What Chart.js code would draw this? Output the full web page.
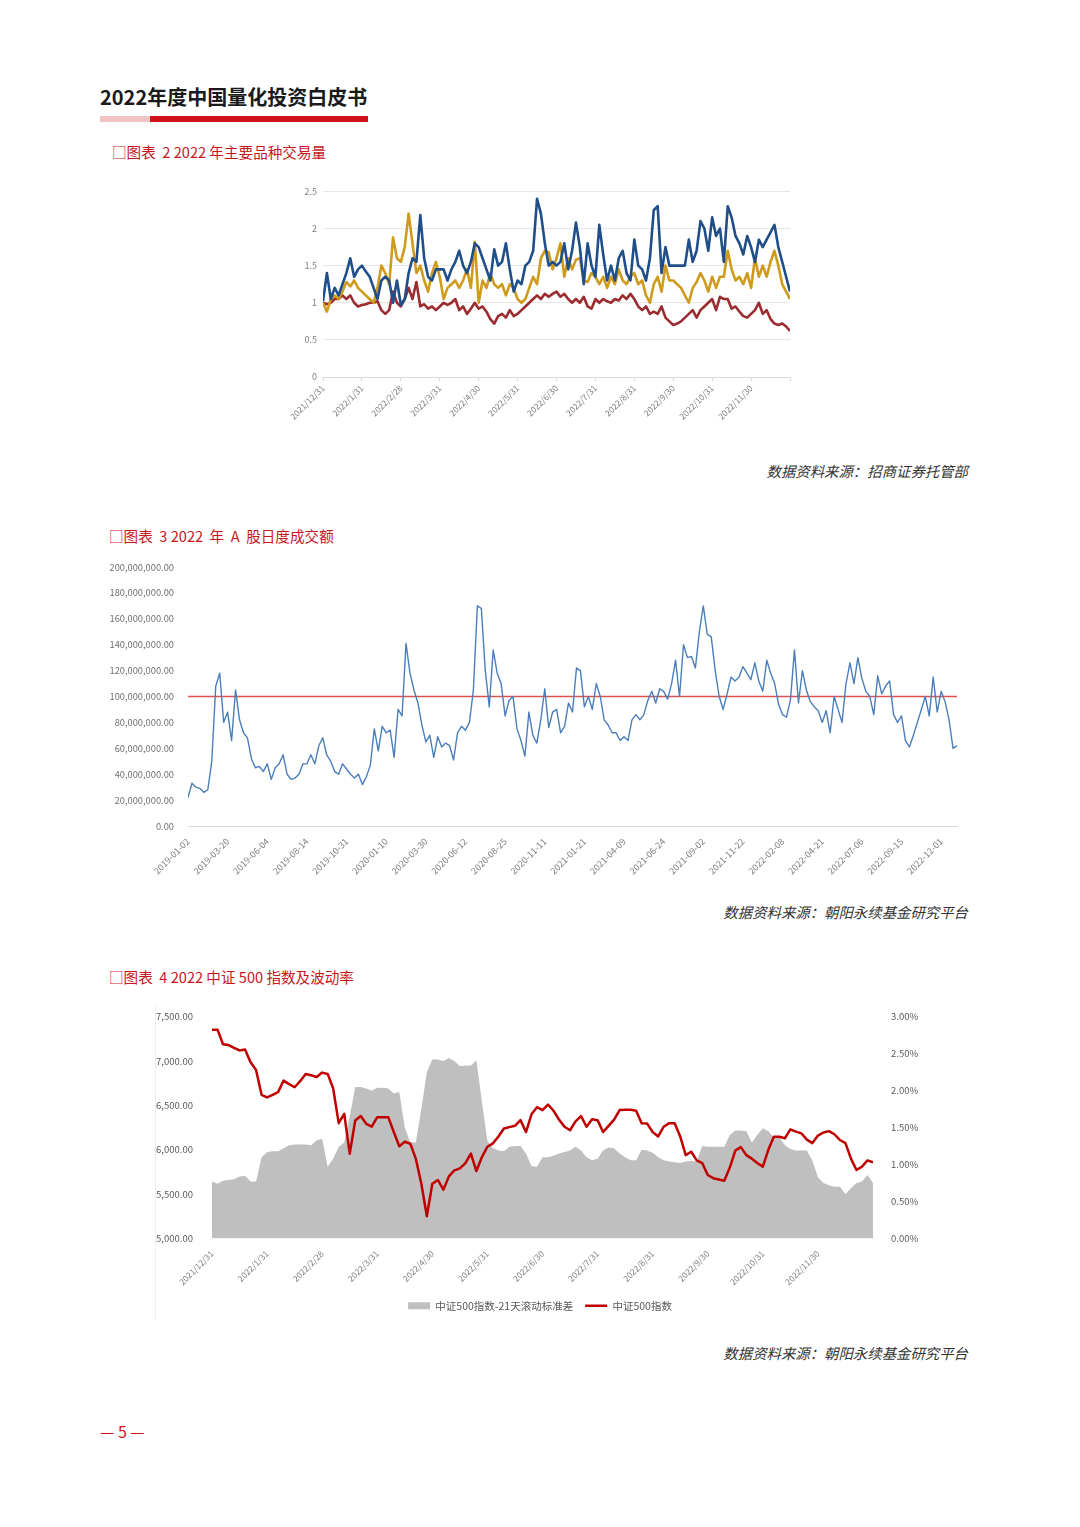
<!DOCTYPE html>
<html>
<head>
<meta charset="utf-8">
<script src="https://cdn.jsdelivr.net/npm/chart.js@4/dist/chart.umd.min.js"></script>
<style>
  body { margin: 0; background: #fff; font-family: 'Noto Sans CJK SC', 'Noto Sans', sans-serif; }
  #page { position: relative; width: 1080px; height: 1527px; overflow: hidden; }
  .abs { position: absolute; }
  .title { left: 100px; top: 82px; font-size: 20px; font-weight: 700; color: #1a1a1a; }
  .bar-pink { left: 100px; top: 116px; width: 50px; height: 6px; background: #f2c3c5; }
  .bar-red { left: 150px; top: 116px; width: 218px; height: 6px; background: #d0121b; }
  .caption { font-size: 14.6px; color: #c8161d; white-space: pre; }
  .source { right: 112px; font-size: 14.4px; font-style: italic; color: #333; }
  .pageno { left: 100px; top: 1419px; font-size: 16px; color: #d0121b; }
</style>
</head>
<body>
<div id="page">
  <div class="abs title">2022年度中国量化投资白皮书</div>
  <div class="abs bar-pink"></div>
  <div class="abs bar-red"></div>

  <div class="abs caption" style="left:112px;top:141px;">□图表  2 2022 年主要品种交易量</div>
  <div class="abs" style="left:270px;top:180px;width:530px;height:270px;"><canvas id="volChart"></canvas></div>
  <div class="abs source" style="top:460px;">数据资料来源：招商证券托管部</div>

  <div class="abs caption" style="left:109px;top:525px;">□图表  3 2022  年  A  股日度成交额</div>
  <div class="abs" style="left:100px;top:555px;width:870px;height:335px;"><canvas id="turnoverChart"></canvas></div>
  <div class="abs source" style="top:901px;">数据资料来源：朝阳永续基金研究平台</div>

  <div class="abs caption" style="left:109px;top:966px;">□图表  4 2022 中证 500 指数及波动率</div>
  <div class="abs" style="left:155px;top:1005px;width:1px;height:315px;background:#eeeeee;"></div>
  <div class="abs" style="left:150px;top:1000px;width:780px;height:321px;"><canvas id="csiChart"></canvas></div>
  <div class="abs source" style="top:1342px;">数据资料来源：朝阳永续基金研究平台</div>

  <div class="abs pageno">— 5 —</div>
</div>

<script>
// ---- chart 2: 2022 main product trading volume (10 points per month) ----
const volTicks = ['2021/12/31', '2022/1/31', '2022/2/28', '2022/3/31', '2022/4/30', '2022/5/31',
  '2022/6/30', '2022/7/31', '2022/8/31', '2022/9/30', '2022/10/31', '2022/11/30'];
const volBlue = [
  1.02, 1.4, 1.05, 1.2, 1.1, 1.25, 1.4, 1.6, 1.35, 1.45,
  1.5, 1.42, 1.35, 1.2, 1.05, 1.3, 1.35, 1.3, 1.0, 1.3,
  0.97, 1.05, 1.4, 1.6, 1.55, 2.18, 1.6, 1.35, 1.3, 1.45,
  1.45, 1.45, 1.3, 1.45, 1.55, 1.7, 1.5, 1.4, 1.55, 1.8,
  1.75, 1.6, 1.45, 1.3, 1.72, 1.5, 1.55, 1.8, 1.45, 1.15,
  1.3, 1.25, 1.5, 1.55, 1.7, 2.4, 2.2, 1.8, 1.5, 1.55,
  1.5, 1.55, 1.8, 1.45, 1.7, 2.08, 1.75, 1.25, 1.8, 1.5,
  1.35, 2.05, 1.65, 1.3, 1.5, 1.3, 1.6, 1.7, 1.4, 1.3,
  1.85, 1.5, 1.45, 1.3, 1.6, 2.25, 2.3, 1.4, 1.75, 1.5,
  1.5, 1.5, 1.5, 1.5, 1.85, 1.55, 1.7, 2.1, 2.0, 1.7,
  2.15, 1.9, 2.0, 1.55, 2.3, 2.15, 1.9, 1.8, 1.65, 1.9,
  1.75, 1.55, 1.85, 1.75, 1.85, 1.95, 2.05, 1.75, 1.55, 1.35,
  1.15];
const volGold = [
  1.0, 0.88, 1.05, 1.1, 1.05, 1.15, 1.28, 1.22, 1.3, 1.2,
  1.15, 1.1, 1.05, 1.0, 1.2, 1.5, 1.4, 1.25, 1.88, 1.6,
  1.55, 1.75, 2.2, 1.8, 1.4, 1.5, 1.3, 1.15, 1.4, 1.55,
  1.35, 1.05, 1.2, 1.25, 1.3, 1.2, 1.3, 1.45, 1.2, 1.82,
  1.0, 1.3, 1.2, 1.4, 1.25, 1.2, 1.25, 1.1, 1.25, 1.2,
  1.05, 1.0, 1.05, 1.2, 1.35, 1.25, 1.6, 1.7, 1.68, 1.45,
  1.6, 1.8, 1.35, 1.6, 1.45, 1.58, 1.6, 1.3, 1.28, 1.4,
  1.35, 1.25, 1.35, 1.2, 1.35, 1.25, 1.45, 1.3, 1.25, 1.35,
  1.4, 1.25, 1.3, 1.1, 1.0, 1.25, 1.35, 1.15, 1.5, 1.3,
  1.3, 1.25, 1.2, 1.1, 1.0, 1.2, 1.28, 1.4, 1.3, 1.15,
  1.35, 1.2, 1.35, 1.35, 1.7, 1.45, 1.3, 1.35, 1.25, 1.4,
  1.2, 1.6, 1.35, 1.5, 1.35, 1.55, 1.7, 1.5, 1.25, 1.15,
  1.05];
const volRed = [
  1.0, 0.98, 1.0, 1.05, 1.05, 1.1, 1.05, 1.1, 1.0, 0.95,
  0.97, 0.98, 1.0, 1.0, 1.02, 0.9, 0.85, 0.9, 1.15, 1.0,
  0.95, 1.05, 1.2, 1.05, 1.28, 0.95, 0.98, 0.92, 0.95, 0.9,
  0.95, 1.0, 0.97, 1.0, 1.05, 0.9, 0.95, 0.85, 0.92, 1.0,
  0.92, 0.95, 0.88, 0.78, 0.72, 0.82, 0.85, 0.8, 0.9, 0.82,
  0.85, 0.9, 0.95, 1.0, 1.05, 1.1, 1.05, 1.12, 1.08, 1.12,
  1.15, 1.08, 1.12, 1.05, 1.0, 1.05, 1.0, 1.08, 0.95, 0.92,
  1.05, 1.0, 1.05, 1.02, 1.0, 1.05, 1.03, 1.1, 1.05, 1.12,
  1.05, 0.95, 0.9, 0.95, 0.85, 0.88, 0.85, 0.95, 0.8, 0.75,
  0.7, 0.72, 0.75, 0.8, 0.85, 0.9, 0.8, 0.9, 0.95, 1.0,
  1.05, 0.9, 1.08, 1.05, 1.05, 0.92, 0.95, 0.88, 0.82, 0.8,
  0.85, 0.9, 1.0, 0.85, 0.9, 0.78, 0.72, 0.7, 0.72, 0.68,
  0.62];

// ---- chart 3: A-share daily turnover (millions, sampled 10 points per tick) ----
const turnoverTicks = ['2019-01-02', '2019-03-20', '2019-06-04', '2019-08-14', '2019-10-31',
  '2020-01-10', '2020-03-30', '2020-06-12', '2020-08-25', '2020-11-11', '2021-01-21',
  '2021-04-09', '2021-06-24', '2021-09-02', '2021-11-22', '2022-02-08', '2022-04-21',
  '2022-07-06', '2022-09-15', '2022-12-01'];
const turnoverM = [
  22, 33, 30, 29, 26, 28, 50, 108, 118, 80,
  88, 66, 105, 82, 72, 68, 52, 45, 46, 42,
  48, 36, 45, 48, 55, 40, 36, 37, 40, 48,
  48, 55, 48, 62, 68, 55, 50, 42, 40, 48,
  44, 40, 37, 40, 32, 38, 47, 75, 58, 77,
  72, 74, 53, 90, 85, 141, 118, 105, 95, 78,
  65, 70, 53, 69, 61, 64, 62, 51, 72, 77,
  74, 80, 105, 170, 168, 120, 92, 136, 118, 110,
  85, 97, 100, 75, 66, 54, 88, 70, 64, 82,
  106, 76, 88, 90, 72, 77, 95, 88, 122, 120,
  92, 100, 90, 110, 100, 82, 78, 72, 72, 66,
  69, 66, 82, 86, 82, 86, 97, 104, 95, 106,
  104, 98, 110, 128, 100, 140, 130, 131, 122, 150,
  170, 148, 146, 120, 100, 90, 102, 115, 112, 115,
  123, 118, 113, 126, 112, 104, 128, 118, 110, 94,
  86, 84, 98, 136, 95, 120, 105, 96, 92, 89,
  80, 89, 72, 100, 90, 80, 110, 126, 110, 130,
  114, 104, 100, 86, 116, 102, 108, 112, 86, 80,
  85, 66, 61, 70, 80, 90, 100, 85, 115, 88,
  104, 96, 82, 60, 62];
const turnoverRefM = 100;

// ---- chart 4: CSI 500 index and 21-day rolling std (10 points per month) ----
const csiTicks = volTicks;
const csiIndex = [
  7354, 7354, 7190, 7180, 7150, 7120, 7130, 6986, 6900, 6620,
  6590, 6620, 6650, 6780, 6740, 6705, 6773, 6855, 6840, 6820,
  6870, 6855, 6690, 6300, 6406, 5956, 6330, 6380, 6293, 6260,
  6368, 6368, 6368, 6200, 6040, 6090, 6068, 5900, 5620, 5250,
  5618, 5660, 5551, 5700, 5768, 5790, 5850, 5956, 5760, 5918,
  6034, 6072, 6150, 6240, 6255, 6270, 6334, 6200, 6400, 6480,
  6447, 6510, 6440, 6340, 6259, 6220, 6320, 6380, 6260, 6345,
  6334, 6200, 6270, 6340, 6447, 6450, 6450, 6440, 6300, 6295,
  6200, 6150, 6260, 6300, 6300, 6150, 5940, 5978, 5880, 5850,
  5716, 5680, 5665, 5650, 5800, 5990, 6030, 5940, 5900, 5850,
  5810, 6000, 6147, 6147, 6130, 6230, 6205, 6185, 6115, 6075,
  6160, 6195, 6210, 6175, 6110, 6075, 5900, 5772, 5810, 5880,
  5858];
const csiStdPct = [
  0.77, 0.74, 0.78, 0.79, 0.8, 0.84, 0.85, 0.77, 0.77, 1.1,
  1.17, 1.18, 1.18, 1.22, 1.26, 1.27, 1.27, 1.27, 1.26, 1.33,
  1.35, 0.97, 1.08, 1.24, 1.30, 1.65, 2.05, 2.05, 2.03, 2.0,
  2.04, 2.04, 2.03, 1.96, 1.98, 1.5, 1.3, 1.3, 1.75, 2.25,
  2.42, 2.42, 2.4, 2.44, 2.4, 2.33, 2.34, 2.34, 2.41, 1.85,
  1.32, 1.22, 1.19, 1.18, 1.24, 1.25, 1.25, 1.15, 0.98, 0.97,
  1.10, 1.10, 1.12, 1.15, 1.17, 1.19, 1.24, 1.19, 1.1, 1.06,
  1.08, 1.19, 1.23, 1.22, 1.15, 1.10, 1.06, 1.06, 1.2, 1.19,
  1.16, 1.1, 1.06, 1.04, 1.03, 1.02, 1.04, 1.05, 1.04, 1.25,
  1.24, 1.24, 1.24, 1.24, 1.4, 1.46, 1.46, 1.45, 1.3, 1.4,
  1.49, 1.45, 1.37, 1.37, 1.26, 1.21, 1.19, 1.19, 1.19, 1.05,
  0.83, 0.75, 0.72, 0.70, 0.70, 0.60, 0.68, 0.75, 0.77, 0.86,
  0.75];

Chart.defaults.font.family = "'Noto Sans CJK SC', 'Noto Sans', sans-serif";
Chart.defaults.animation = false;
Chart.defaults.responsive = true;
Chart.defaults.maintainAspectRatio = false;

const STEP = 10; // points per tick interval

function toXY(values) {
  return values.map((v, i) => ({ x: i, y: v }));
}

function tickLabel(labels) {
  return function(value) {
    if (value % STEP !== 0) return '';
    return labels[value / STEP] || '';
  };
}

function xAxis(labels, max, height, fontSize, extra) {
  return Object.assign({
    type: 'linear',
    min: 0,
    max: max,
    afterFit: s => { s.height = height; },
    ticks: {
      stepSize: STEP,
      autoSkip: false,
      includeBounds: false,
      minRotation: 45,
      maxRotation: 45,
      padding: 2,
      color: '#7f7f7f',
      font: { size: fontSize },
      callback: tickLabel(labels)
    },
    grid: { display: false },
    border: { display: false }
  }, extra || {});
}

function lineSet(label, values, color, width, yAxisID) {
  return {
    label: label,
    data: toXY(values),
    borderColor: color,
    backgroundColor: color,
    borderWidth: width,
    pointRadius: 0,
    tension: 0,
    borderJoinStyle: 'round',
    yAxisID: yAxisID || 'y'
  };
}

// chart 2
new Chart(document.getElementById('volChart'), {
  type: 'line',
  data: {
    datasets: [
      lineSet('blue', volBlue, '#1f4e89', 2.6),
      lineSet('gold', volGold, '#cf9b1c', 2.6),
      lineSet('red', volRed, '#9b2d30', 2.6)
    ]
  },
  options: {
    layout: { padding: { top: 11, right: 10, left: 0, bottom: 0 } },
    plugins: { legend: { display: false }, tooltip: { enabled: false } },
    scales: {
      x: xAxis(volTicks, volBlue.length - 1, 73, 8.5, {
        grid: { display: true, drawOnChartArea: false, drawTicks: true, tickLength: 4, color: '#d9d9d9' },
        border: { display: true, color: '#d9d9d9' }
      }),
      y: {
        min: 0,
        max: 2.5,
        afterFit: s => { s.width = 53; },
        ticks: { stepSize: 0.5, padding: 6, color: '#7f7f7f', font: { size: 9 }, callback: v => String(v) },
        grid: { color: '#e6e6e6', drawTicks: false },
        border: { display: false }
      }
    }
  }
});

// chart 3
const turnoverRef = [{ x: 0, y: turnoverRefM }, { x: turnoverM.length - 1, y: turnoverRefM }];
new Chart(document.getElementById('turnoverChart'), {
  type: 'line',
  data: {
    datasets: [
      lineSet('成交额', turnoverM, '#4a7ebb', 1.4),
      {
        label: '基准',
        data: turnoverRef,
        borderColor: '#d9534f',
        borderWidth: 1.5,
        pointRadius: 0
      }
    ]
  },
  options: {
    layout: { padding: { top: 12, right: 13, left: 0, bottom: 0 } },
    plugins: { legend: { display: false }, tooltip: { enabled: false } },
    scales: {
      x: xAxis(turnoverTicks, turnoverM.length - 1, 64, 9, {
        border: { display: true, color: '#d9d9d9' }
      }),
      y: {
        min: 0,
        max: 200,
        afterFit: s => { s.width = 88; },
        ticks: {
          stepSize: 20,
          padding: 6,
          color: '#6f6f6f',
          font: { size: 9.3 },
          callback: v => (v * 1e6).toLocaleString('en-US', { minimumFractionDigits: 2, maximumFractionDigits: 2 })
        },
        grid: { display: false },
        border: { display: false }
      }
    }
  }
});

// chart 4
new Chart(document.getElementById('csiChart'), {
  type: 'line',
  data: {
    datasets: [
      Object.assign(lineSet('中证500指数', csiIndex, '#c00000', 2.5, 'y'), { pointStyle: 'line' }),
      {
        label: '中证500指数-21天滚动标准差',
        data: toXY(csiStdPct),
        yAxisID: 'y1',
        borderWidth: 0,
        borderColor: '#bfbfbf',
        backgroundColor: '#bfbfbf',
        pointRadius: 0,
        pointStyle: 'rect',
        fill: 'origin',
        tension: 0
      }
    ]
  },
  options: {
    layout: { padding: { top: 16, right: 0, left: 0, bottom: 0 } },
    plugins: {
      tooltip: { enabled: false },
      legend: {
        position: 'bottom',
        labels: {
          usePointStyle: true,
          pointStyleWidth: 22,
          boxHeight: 7,
          padding: 12,
          color: '#595959',
          font: { size: 10.5 },
          sort: (a, b) => b.datasetIndex - a.datasetIndex
        }
      }
    },
    scales: {
      x: xAxis(csiTicks, csiIndex.length - 1, 50, 8.5),
      y: {
        position: 'left',
        min: 5000,
        max: 7500,
        afterFit: s => { s.width = 62; },
        ticks: {
          stepSize: 500,
          padding: 11,
          color: '#595959',
          font: { size: 9.5 },
          callback: v => v.toLocaleString('en-US', { minimumFractionDigits: 2, maximumFractionDigits: 2 })
        },
        grid: { display: false },
        border: { display: false }
      },
      y1: {
        position: 'right',
        min: 0,
        max: 3,
        afterFit: s => { s.width = 57; },
        ticks: {
          stepSize: 0.5,
          padding: 10,
          color: '#595959',
          font: { size: 9.5 },
          callback: v => v.toFixed(2) + '%'
        },
        grid: { display: false },
        border: { display: false }
      }
    }
  }
});
</script>
</body>
</html>
